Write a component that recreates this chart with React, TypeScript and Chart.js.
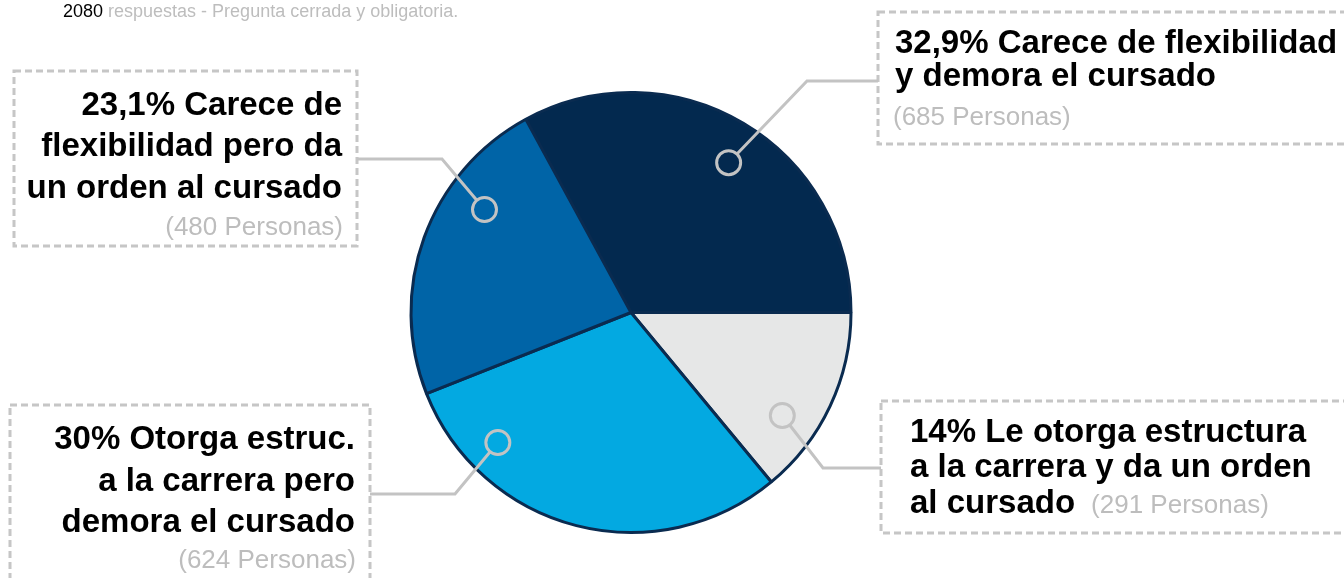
import React, { useEffect, useRef } from "react";
import { Chart, registerables } from "chart.js";

Chart.register(...registerables);

// ---------- data ----------
const categories = [
  "Carece de flexibilidad y demora el cursado",
  "Le otorga estructura a la carrera y da un orden al cursado",
  "Otorga estruc. a la carrera pero demora el cursado",
  "Carece de flexibilidad pero da un orden al cursado",
];
const values = [685, 291, 624, 480];
const sliceColors = ["#03294f", "#e6e7e7", "#03a9e1", "#0064a7"];
const unitLabel = "Personas";
const subtitleRest = "respuestas - Pregunta cerrada y obligatoria.";

// ---------- layout (positions / styles only) ----------
const FONT = '"Liberation Sans", Arial, Helvetica, sans-serif';
const W = 1344;
const H = 578;
const BOLD = 33;
const NOTE = 26;
const GREY = "#bdbdbd";
const LINE_GREY = "#c3c3c3";

type Layout = {
  lineWords: number[];
  align: "left" | "right";
  x: number;
  baselines: number[];
  noteBaseline?: number;
  inlineNote?: boolean;
  box: [number, number, number, number];
  lineY: number;
  elbowX: number;
  anchorX: number;
  angleFrac: number;
  radiusFrac: number;
};

const labelLayout: Layout[] = [
  { lineWords: [4, 4], align: "left", x: 895, baselines: [53, 86], noteBaseline: 125,
    box: [878, 12, 1364, 144], lineY: 81, elbowX: 807, anchorX: 878, angleFrac: 0.52, radiusFrac: 0.813 },
  { lineWords: [4, 7, 2], align: "left", x: 910, baselines: [442, 477, 513], inlineNote: true,
    box: [881, 401, 1364, 533], lineY: 468, elbowX: 823, anchorX: 881, angleFrac: 0.68, radiusFrac: 0.832 },
  { lineWords: [3, 4, 3], align: "right", x: 355, baselines: [449, 491, 532], noteBaseline: 568,
    box: [10, 405, 370, 600], lineY: 494, elbowX: 455, anchorX: 370, angleFrac: 0.79, radiusFrac: 0.846 },
  { lineWords: [3, 3, 4], align: "right", x: 342, baselines: [115, 156, 198], noteBaseline: 235,
    box: [14, 71, 357, 246], lineY: 159, elbowX: 442, anchorX: 357, angleFrac: 0.683, radiusFrac: 0.814 },
];

const total = values.reduce((a, b) => a + b, 0);
const pctText = (v: number) => {
  const p = Math.round((v / total) * 1000) / 10;
  return String(p).replace(".", ",") + "%";
};

const labelLines = (i: number) => {
  const words = (pctText(values[i]) + " " + categories[i]).split(" ");
  const out: string[] = [];
  let k = 0;
  for (const n of labelLayout[i].lineWords) {
    out.push(words.slice(k, k + n).join(" "));
    k += n;
  }
  return out;
};

const ASC = 0.8465; // baseline offset for line-height = font-size (Liberation Sans)

const overlayPlugin = {
  id: "overlay",
  afterDatasetsDraw(chart: any) {
    const ctx = chart.ctx as CanvasRenderingContext2D;
    const arcs = chart.getDatasetMeta(0).data;
    ctx.save();
    // dashed boxes
    ctx.setLineDash([7, 4]);
    ctx.lineWidth = 3;
    ctx.strokeStyle = "#c6c6c6";
    labelLayout.forEach((l) => {
      const [x0, y0, x1, y1] = l.box;
      ctx.strokeRect(x0, y0, x1 - x0, y1 - y0);
    });
    ctx.setLineDash([]);
    // connectors
    ctx.strokeStyle = LINE_GREY;
    ctx.lineWidth = 3;
    ctx.lineJoin = "miter";
    arcs.forEach((arc: any, i: number) => {
      const l = labelLayout[i];
      const p = arc.getProps(["x", "y", "startAngle", "endAngle", "outerRadius"], true);
      const a = p.startAngle + (p.endAngle - p.startAngle) * l.angleFrac;
      const r = p.outerRadius * l.radiusFrac;
      const cx = p.x + Math.cos(a) * r;
      const cy = p.y + Math.sin(a) * r;
      const cr = 12;
      const dx = l.elbowX - cx;
      const dy = l.lineY - cy;
      const d = Math.hypot(dx, dy);
      ctx.beginPath();
      ctx.moveTo(cx + (dx / d) * cr, cy + (dy / d) * cr);
      ctx.lineTo(l.elbowX, l.lineY);
      ctx.lineTo(l.anchorX, l.lineY);
      ctx.stroke();
      ctx.beginPath();
      ctx.arc(cx, cy, cr, 0, Math.PI * 2);
      ctx.stroke();
    });
    ctx.restore();
  },
};

function TextLine(props: {
  x: number; baseline: number; size: number; align: "left" | "right";
  weight?: number; color?: string; children: React.ReactNode;
}) {
  const { x, baseline, size, align, weight = 400, color = "#000", children } = props;
  const style: React.CSSProperties = {
    position: "absolute",
    top: baseline - ASC * size,
    fontFamily: FONT,
    fontSize: size,
    lineHeight: `${size}px`,
    fontWeight: weight,
    color,
    whiteSpace: "nowrap",
  };
  if (align === "left") style.left = x;
  else style.right = W - x;
  return <div style={style}>{children}</div>;
}

export default function App() {
  const canvasRef = useRef<HTMLCanvasElement | null>(null);

  useEffect(() => {
    const canvas = canvasRef.current;
    if (!canvas) return;
    const chart = new Chart(canvas, {
      type: "pie",
      data: {
        labels: categories,
        datasets: [
          {
            data: values,
            backgroundColor: sliceColors,
            borderColor: "#0a2b50",
            borderWidth: 3,
          },
        ],
      },
      options: {
        responsive: false,
        animation: false,
        rotation: -28.56,
        radius: 220,
        layout: { padding: { left: 0, right: 82, top: 47, bottom: 0 } },
        plugins: {
          legend: { display: false },
          tooltip: { enabled: false },
        },
        events: [],
      },
      plugins: [overlayPlugin],
    });
    return () => chart.destroy();
  }, []);

  return (
    <div
      style={{
        position: "absolute",
        left: 0,
        top: 0,
        width: W,
        height: H,
        overflow: "hidden",
        background: "#fff",
      }}
    >
      <canvas ref={canvasRef} width={W} height={H} style={{ position: "absolute", left: 0, top: 0, width: W, height: H }} />
      <TextLine x={63} baseline={17} size={18} align="left">
        <span style={{ color: "#000" }}>{total}</span>
        <span style={{ color: GREY }}> {subtitleRest}</span>
      </TextLine>
      {labelLayout.map((l, i) => {
        const lines = labelLines(i);
        const note = `(${values[i]} ${unitLabel})`;
        return (
          <React.Fragment key={i}>
            {lines.map((t, j) => (
              <TextLine key={j} x={l.x} baseline={l.baselines[j]} size={BOLD} align={l.align} weight={700}>
                {t}
                {l.inlineNote && j === lines.length - 1 ? (
                  <span style={{ fontSize: NOTE, fontWeight: 400, color: GREY, marginLeft: 16 }}>{note}</span>
                ) : null}
              </TextLine>
            ))}
            {!l.inlineNote && l.noteBaseline !== undefined ? (
              <TextLine x={l.align === "right" ? l.x + 1 : l.x - 2} baseline={l.noteBaseline} size={NOTE} align={l.align} color={GREY}>
                {note}
              </TextLine>
            ) : null}
          </React.Fragment>
        );
      })}
    </div>
  );
}
